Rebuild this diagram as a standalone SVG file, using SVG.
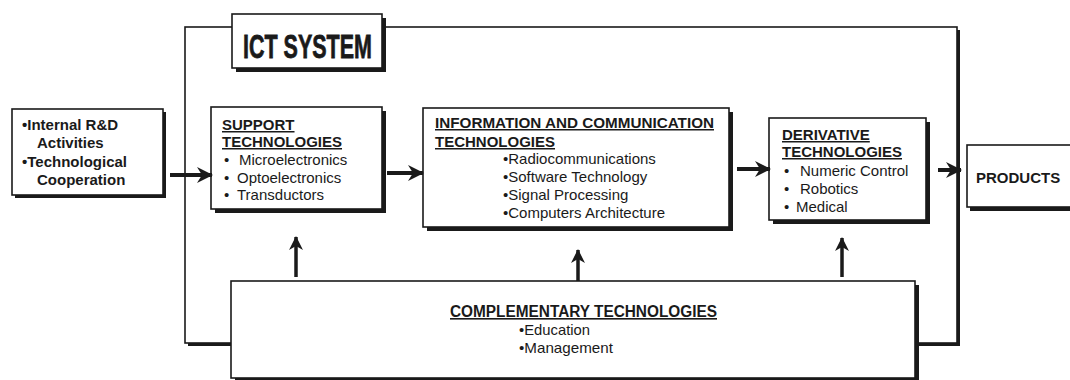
<svg xmlns="http://www.w3.org/2000/svg" width="1070" height="380" viewBox="0 0 1070 380">
  <style>
    .box { fill: #ffffff; stroke: #1a1a1a; stroke-width: 1.6; }
    .shadow { fill: #1a1a1a; }
    .t { font-family: "Liberation Sans", Arial, sans-serif; font-size: 15px; fill: #1a1a1a; }
    .b { font-weight: bold; }
    .u { text-decoration: underline; }
    .narrow { font-family: "Liberation Sans Narrow", "Liberation Sans", Arial, sans-serif; }
    .flow { stroke: #1a1a1a; stroke-width: 4; fill: none; marker-end: url(#head); }
    .up { stroke: #1a1a1a; stroke-width: 3.5; fill: none; marker-end: url(#headUp); }
  </style>
  <defs>
    <marker id="head" markerUnits="userSpaceOnUse" viewBox="0 0 16 16" markerWidth="16" markerHeight="16" refX="15" refY="8" orient="auto">
      <path d="M0,0 L16,8 L0,16 L5,8 Z" fill="#1a1a1a"/>
    </marker>
    <marker id="headUp" markerUnits="userSpaceOnUse" viewBox="0 0 14 14" markerWidth="14" markerHeight="14" refX="13" refY="7" orient="auto">
      <path d="M0,0 L14,7 L0,14 L4,7 Z" fill="#1a1a1a"/>
    </marker>
  </defs>

  <!-- ICT system frame -->
  <g id="ict-system">
    <rect class="shadow" x="188" y="30" width="772" height="316"/>
    <rect class="box" x="185" y="27" width="772" height="316"/>
    <rect class="shadow" x="236" y="18" width="150" height="54"/>
    <rect class="box" x="232" y="14" width="150" height="54"/>
    <text class="t b" x="243" y="58" textLength="129" lengthAdjust="spacingAndGlyphs" style="font-size:34px; stroke:#1a1a1a; stroke-width:0.8">ICT SYSTEM</text>
  </g>

  <!-- Inputs -->
  <g id="inputs">
    <rect class="shadow" x="15" y="112" width="151" height="86"/>
    <rect class="box" x="12" y="109" width="151" height="86"/>
    <text class="t b" x="22" y="130">•Internal R&amp;D</text>
    <text class="t b" x="37" y="148">Activities</text>
    <text class="t b" x="22" y="167">•Technological</text>
    <text class="t b" x="37" y="185">Cooperation</text>
  </g>

  <!-- Support technologies -->
  <g id="support">
    <rect class="shadow" x="215" y="111" width="171" height="102"/>
    <rect class="box" x="211" y="107" width="171" height="102"/>
    <text class="t b u" x="222" y="130">SUPPORT</text>
    <text class="t b u" x="222" y="147">TECHNOLOGIES</text>
    <text class="t" x="224" y="165">•</text>
    <text class="t" x="239" y="165">Microelectronics</text>
    <text class="t" x="224" y="183">•</text>
    <text class="t" x="237" y="183">Optoelectronics</text>
    <text class="t" x="224" y="200">•</text>
    <text class="t" x="237" y="200">Transductors</text>
  </g>

  <!-- Information and communication technologies -->
  <g id="ict">
    <rect class="shadow" x="427" y="112" width="306" height="119"/>
    <rect class="box" x="423" y="108" width="306" height="119"/>
    <text class="t b u" x="435" y="128" textLength="279" lengthAdjust="spacingAndGlyphs">INFORMATION AND COMMUNICATION</text>
    <text class="t b u" x="435" y="147">TECHNOLOGIES</text>
    <text class="t" x="503" y="164">•Radiocommunications</text>
    <text class="t" x="503" y="182">•Software Technology</text>
    <text class="t" x="503" y="200">•Signal Processing</text>
    <text class="t" x="503" y="218">•Computers Architecture</text>
  </g>

  <!-- Derivative technologies -->
  <g id="derivative">
    <rect class="shadow" x="773" y="122" width="157" height="102"/>
    <rect class="box" x="769" y="118" width="157" height="102"/>
    <text class="t b u" x="782" y="140">DERIVATIVE</text>
    <text class="t b u" x="782" y="157">TECHNOLOGIES</text>
    <text class="t" x="784" y="176">•</text>
    <text class="t" x="800" y="176">Numeric Control</text>
    <text class="t" x="784" y="194">•</text>
    <text class="t" x="800" y="194">Robotics</text>
    <text class="t" x="784" y="212">•</text>
    <text class="t" x="796" y="212">Medical</text>
  </g>

  <!-- Products -->
  <g id="products">
    <rect class="shadow" x="970" y="149" width="120" height="62"/>
    <rect class="box" x="967" y="145" width="120" height="62"/>
    <text class="t b" x="976" y="183">PRODUCTS</text>
  </g>

  <!-- Complementary technologies -->
  <g id="complementary">
    <rect class="shadow" x="235" y="285" width="684" height="97"/>
    <rect class="box" x="231" y="281" width="684" height="97"/>
    <text class="t narrow b u" x="450" y="317" textLength="267" lengthAdjust="spacingAndGlyphs" style="font-size:16px">COMPLEMENTARY TECHNOLOGIES</text>
    <text class="t narrow" x="519" y="335" textLength="71" lengthAdjust="spacingAndGlyphs">•Education</text>
    <text class="t narrow" x="519" y="353" textLength="94" lengthAdjust="spacingAndGlyphs">•Management</text>
  </g>

  <!-- Connectors -->
  <g id="connectors">
    <line class="flow" x1="170" y1="175" x2="212" y2="175"/>
    <line class="flow" x1="387" y1="173" x2="423" y2="173"/>
    <line class="flow" x1="737" y1="169" x2="770" y2="169"/>
    <line class="flow" x1="938" y1="170" x2="961" y2="170"/>
    <line class="up" x1="296" y1="277" x2="296" y2="237"/>
    <line class="up" x1="578" y1="281" x2="578" y2="250"/>
    <line class="up" x1="842" y1="277" x2="842" y2="238"/>
  </g>
</svg>
